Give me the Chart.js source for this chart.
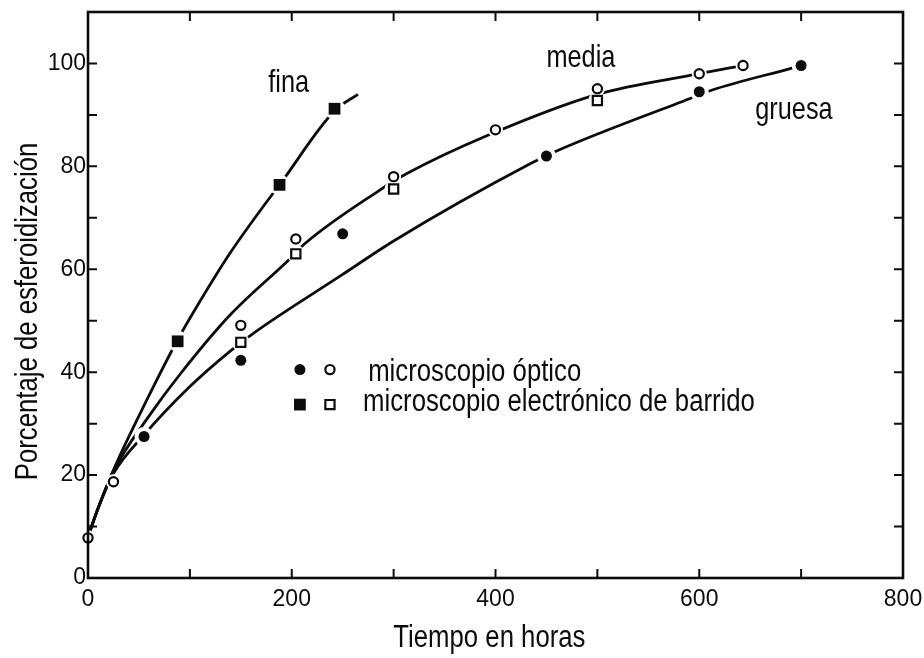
<!DOCTYPE html>
<html>
<head>
<meta charset="utf-8">
<script src="https://cdn.jsdelivr.net/npm/chart.js@4.4.1/dist/chart.umd.min.js"></script>
<style>
  html, body { margin: 0; padding: 0; background: #fff; }
  #wrap { width: 924px; height: 658px; }
</style>
</head>
<body>
<div id="wrap"><canvas id="chart" width="924" height="658"></canvas></div>
<script>
const gruesaOpticoX = [55, 150, 250, 450, 600, 700];
const gruesaOpticoY = [27.5, 42.3, 66.9, 82, 94.5, 99.6];
const finaSemX = [88, 188, 242];
const finaSemY = [46, 76.4, 91.2];
const mediaOpticoX = [0, 25, 150, 204, 300, 400, 500, 600, 643];
const mediaOpticoY = [7.8, 18.7, 49.1, 65.9, 78, 87.1, 95.1, 98, 99.6];
const mediaSemX = [150, 204, 300, 500];
const mediaSemY = [45.8, 63, 75.6, 92.8];

// hand drawn trend curves
const finaCurveX = [0, 10, 25, 58, 88, 107, 139, 172, 188, 242, 265];
const finaCurveY = [8, 13.6, 21, 34.7, 46.3, 52.8, 63, 72.2, 76.4, 90.8, 94];
const mediaCurveX = [0, 10, 25, 60, 90, 139, 198, 213, 285, 313, 392, 500, 600, 643];
const mediaCurveY = [8, 13.6, 20.8, 31.5, 39.5, 51, 62, 65, 75.2, 78.6, 86, 94, 98, 99.6];
const gruesaCurveX = [0, 10, 25, 55, 100, 139, 164, 250, 300, 434, 460, 591, 612, 691, 700];
const gruesaCurveY = [8, 13.6, 20.3, 27.8, 37.2, 44, 47.8, 59, 65.5, 80.5, 83, 93.2, 94.8, 99.1, 99.6];

// axes
const xTickLabels = [0, 200, 400, 600, 800];
const yTickLabels = [0, 20, 40, 60, 80, 100];
const xTickMarks = [100, 200, 300, 400, 500, 600, 700];
const yTickMarks = [10, 20, 30, 40, 50, 60, 70, 80, 90, 100];

const xTitle = 'Tiempo en horas';
const yTitle = 'Porcentaje de esferoidización';
const legendRows = ['microscopio óptico', 'microscopio electrónico de barrido'];

const INK = '#0c0c0c';
const SANS = "'Liberation Sans', Arial, sans-serif";
const SQUEEZE = 0.83; // the print uses a condensed face; squeeze Liberation Sans to match

const pts = (xs, ys) => xs.map((x, i) => ({ x: x, y: ys[i] }));

function curve(xs, ys) {
  return {
    data: pts(xs, ys),
    showLine: true,
    borderColor: INK,
    borderWidth: 2.8,
    pointRadius: 0,
    cubicInterpolationMode: 'monotone',
    order: 3,
    clip: false
  };
}

// white disc under each marker so the curve breaks around it, like the print
function halo(xs, ys, r) {
  return {
    data: pts(xs, ys),
    showLine: false,
    pointRadius: r,
    pointBackgroundColor: '#fff',
    pointBorderColor: '#fff',
    pointBorderWidth: 0,
    order: 2,
    clip: false
  };
}

function marker(xs, ys, style, r, filled) {
  return {
    data: pts(xs, ys),
    showLine: false,
    pointStyle: style,
    pointRadius: r,
    pointBackgroundColor: filled ? INK : '#fff',
    pointBorderColor: INK,
    pointBorderWidth: filled ? 0 : 2.2,
    order: 1,
    clip: false
  };
}

function narrowText(ctx, text, px, py, size, align, angle) {
  ctx.save();
  ctx.translate(px, py);
  if (angle) ctx.rotate(angle);
  ctx.scale(SQUEEZE, 1);
  ctx.font = size + 'px ' + SANS;
  ctx.textAlign = align;
  ctx.textBaseline = 'alphabetic';
  ctx.fillStyle = INK;
  ctx.fillText(text, 0, 0);
  ctx.restore();
}

const figureExtras = {
  id: 'figureExtras',
  afterDatasetsDraw(chart) {
    const { ctx, chartArea: a, scales: { x, y } } = chart;
    ctx.save();

    // frame with inward ticks on all four sides
    ctx.strokeStyle = INK;
    ctx.lineWidth = 2.6;
    ctx.strokeRect(a.left, a.top, a.right - a.left, a.bottom - a.top);
    ctx.lineWidth = 2;
    ctx.beginPath();
    xTickMarks.forEach(v => {
      const px = x.getPixelForValue(v);
      ctx.moveTo(px, a.bottom); ctx.lineTo(px, a.bottom - 9);
      ctx.moveTo(px, a.top); ctx.lineTo(px, a.top + 9);
    });
    yTickMarks.forEach(v => {
      const py = y.getPixelForValue(v);
      ctx.moveTo(a.left, py); ctx.lineTo(a.left + 9, py);
      ctx.moveTo(a.right, py); ctx.lineTo(a.right - 9, py);
    });
    ctx.stroke();

    // curve names
    narrowText(ctx, 'fina', x.getPixelForValue(177), y.getPixelForValue(94.5), 30.5, 'left');
    narrowText(ctx, 'media', x.getPixelForValue(450), y.getPixelForValue(99.4), 30.5, 'left');
    narrowText(ctx, 'gruesa', x.getPixelForValue(655), y.getPixelForValue(89.3), 30.5, 'left');

    // legend block
    const drawSym = (vx, vy, style, r, filled) => {
      ctx.fillStyle = filled ? INK : '#fff';
      ctx.strokeStyle = INK;
      ctx.lineWidth = 2.2;
      Chart.helpers.drawPoint(ctx, { pointStyle: style, radius: r, borderWidth: filled ? 0 : 2.2, rotation: 0 },
        x.getPixelForValue(vx), y.getPixelForValue(vy));
    };
    drawSym(208, 40.5, 'circle', 5.5, true);
    drawSym(237.5, 40.5, 'circle', 4.6, false);
    drawSym(208, 33.7, 'rect', 8.3, true);
    drawSym(237.5, 33.7, 'rect', 6.5, false);

    narrowText(ctx, legendRows[0], x.getPixelForValue(275), y.getPixelForValue(38.2), 31, 'left');
    narrowText(ctx, legendRows[1], x.getPixelForValue(270), y.getPixelForValue(32.4), 31, 'left');

    // axis titles
    narrowText(ctx, xTitle, x.getPixelForValue(394), 647, 31, 'center');
    narrowText(ctx, yTitle, 37, y.getPixelForValue(51.8), 31, 'center', -Math.PI / 2);

    ctx.restore();
  }
};

new Chart(document.getElementById('chart'), {
  type: 'scatter',
  data: {
    datasets: [
      marker(gruesaOpticoX, gruesaOpticoY, 'circle', 5.5, true),
      marker(mediaOpticoX, mediaOpticoY, 'circle', 4.6, false),
      marker(finaSemX, finaSemY, 'rect', 8.3, true),
      marker(mediaSemX, mediaSemY, 'rect', 6.5, false),
      halo(gruesaOpticoX, gruesaOpticoY, 9.5),
      halo(mediaOpticoX, mediaOpticoY, 7.5),
      halo(finaSemX, finaSemY, 10.5),
      halo(mediaSemX, mediaSemY, 9),
      curve(finaCurveX, finaCurveY),
      curve(mediaCurveX, mediaCurveY),
      curve(gruesaCurveX, gruesaCurveY)
    ]
  },
  options: {
    responsive: false,
    animation: false,
    events: [],
    layout: { padding: { top: 12, right: 21, left: 0, bottom: 0 } },
    plugins: { legend: { display: false }, tooltip: { enabled: false } },
    scales: {
      x: {
        type: 'linear',
        min: 0,
        max: 800,
        grid: { display: false, drawTicks: false },
        border: { display: false },
        afterBuildTicks: s => { s.ticks = xTickLabels.map(v => ({ value: v })); },
        afterFit: s => { s.height = 80; s.paddingLeft = 0; s.paddingRight = 0; },
        ticks: { padding: 8, color: INK, maxRotation: 0, autoSkip: false,
                 font: { family: SANS, size: 23 } }
      },
      y: {
        type: 'linear',
        min: 0,
        max: 110,
        grid: { display: false, drawTicks: false },
        border: { display: false },
        afterBuildTicks: s => { s.ticks = yTickLabels.map(v => ({ value: v })); },
        afterFit: s => { s.width = 88; s.paddingTop = 0; s.paddingBottom = 0; },
        ticks: { padding: 2, color: INK, autoSkip: false,
                 font: { family: SANS, size: 23 } }
      }
    }
  },
  plugins: [figureExtras]
});
</script>
</body>
</html>
